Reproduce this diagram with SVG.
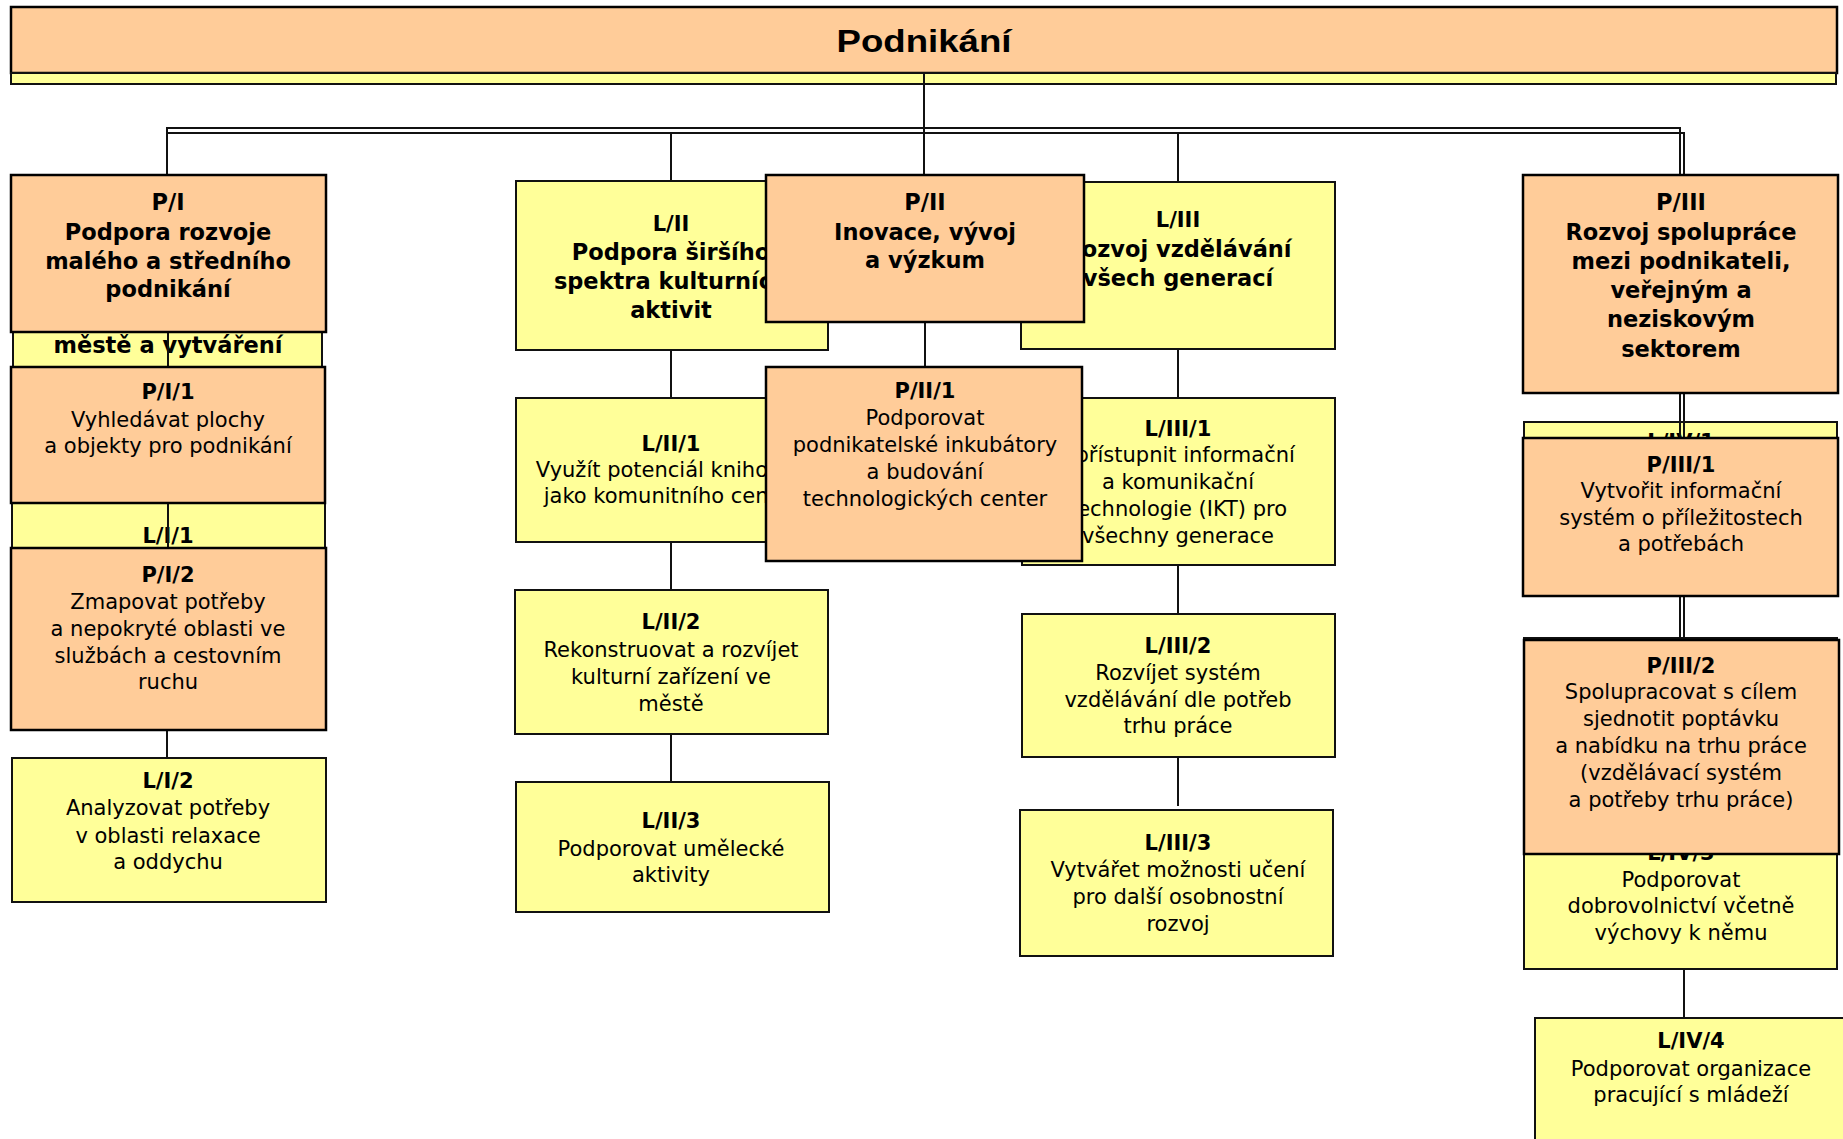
<svg xmlns="http://www.w3.org/2000/svg" width="1843" height="1139" viewBox="0 0 1843 1139">
<style>
.o{fill:#FFCC99;stroke:#000;stroke-width:2.5}
.y{fill:#FFFF99;stroke:#111;stroke-width:2}
.t{font-family:"DejaVu Sans",Verdana,sans-serif;font-size:21px;text-anchor:middle;fill:#000}
.b{font-weight:bold}
.h{font-size:22.5px;font-weight:bold}
.c{fill:none;stroke:#111;stroke-width:2}
.ttl{font-family:"Liberation Sans",Arial,sans-serif;font-size:32px;font-weight:bold;text-anchor:middle;fill:#000}
</style>
<rect width="1843" height="1139" fill="#fff"/>
<g id="n-podnikani">
<rect class="o" x="11" y="7" width="1826" height="66"/>
<rect class="y" x="11" y="73" width="1825" height="11"/>
<text class="ttl" x="924" y="52" textLength="175" lengthAdjust="spacingAndGlyphs">Podnikání</text>
</g>
<g id="n-LI">
<rect class="y" x="13" y="300" width="309" height="67"/>
<text class="t h" x="168" y="353">městě a vytváření</text>
</g>
<g id="n-LI1">
<rect class="y" x="12" y="503" width="313" height="60"/>
<text class="t b" x="168" y="543">L/I/1</text>
</g>
<g id="n-LI2">
<rect class="y" x="12" y="758" width="314" height="144"/>
<text class="t"><tspan class="b" x="168" y="788">L/I/2</tspan><tspan x="168" y="815">Analyzovat potřeby</tspan><tspan x="168" y="843">v oblasti relaxace</tspan><tspan x="168" y="869">a oddychu</tspan></text>
</g>
<g id="n-LII">
<rect class="y" x="516" y="181" width="312" height="169"/>
<text class="t"><tspan class="b" x="671" y="231">L/II</tspan><tspan class="h" x="671" y="260">Podpora širšího</tspan><tspan class="h" x="671" y="289">spektra kulturních</tspan><tspan class="h" x="671" y="318">aktivit</tspan></text>
</g>
<g id="n-LII1">
<rect class="y" x="516" y="398" width="312" height="144"/>
<text class="t"><tspan class="b" x="671" y="451">L/II/1</tspan><tspan x="671" y="477">Využít potenciál knihovny</tspan><tspan x="671" y="503">jako komunitního centra</tspan></text>
</g>
<g id="n-LII2">
<rect class="y" x="515" y="590" width="313" height="144"/>
<text class="t"><tspan class="b" x="671" y="629">L/II/2</tspan><tspan x="671" y="657">Rekonstruovat a rozvíjet</tspan><tspan x="671" y="684">kulturní zařízení ve</tspan><tspan x="671" y="711">městě</tspan></text>
</g>
<g id="n-LII3">
<rect class="y" x="516" y="782" width="313" height="130"/>
<text class="t"><tspan class="b" x="671" y="828">L/II/3</tspan><tspan x="671" y="856">Podporovat umělecké</tspan><tspan x="671" y="882">aktivity</tspan></text>
</g>
<g id="n-LIII">
<rect class="y" x="1021" y="182" width="314" height="167"/>
<text class="t"><tspan class="b" x="1178" y="227">L/III</tspan><tspan class="h" x="1178" y="257">Rozvoj vzdělávání</tspan><tspan class="h" x="1178" y="286">všech generací</tspan></text>
</g>
<g id="n-LIII1">
<rect class="y" x="1022" y="398" width="313" height="167"/>
<text class="t"><tspan class="b" x="1178" y="436">L/III/1</tspan><tspan x="1178" y="462">Zpřístupnit informační</tspan><tspan x="1178" y="489">a komunikační</tspan><tspan x="1178" y="516">technologie (IKT) pro</tspan><tspan x="1178" y="543">všechny generace</tspan></text>
</g>
<g id="n-LIII2">
<rect class="y" x="1022" y="614" width="313" height="143"/>
<text class="t"><tspan class="b" x="1178" y="653">L/III/2</tspan><tspan x="1178" y="680">Rozvíjet systém</tspan><tspan x="1178" y="707">vzdělávání dle potřeb</tspan><tspan x="1178" y="733">trhu práce</tspan></text>
</g>
<g id="n-LIII3">
<rect class="y" x="1020" y="810" width="313" height="146"/>
<text class="t"><tspan class="b" x="1178" y="850">L/III/3</tspan><tspan x="1178" y="877">Vytvářet možnosti učení</tspan><tspan x="1178" y="904">pro další osobnostní</tspan><tspan x="1178" y="931">rozvoj</tspan></text>
</g>
<g id="n-LIV1">
<rect class="y" x="1524" y="422" width="313" height="60"/>
<text class="t b" x="1681" y="449">L/IV/1</text>
</g>
<g id="n-LIV2">
<rect class="y" x="1524" y="638" width="313" height="150"/>
</g>
<g id="n-LIV3">
<rect class="y" x="1524" y="790" width="313" height="179"/>
<text class="t"><tspan class="b" x="1681" y="860">L/IV/3</tspan><tspan x="1681" y="887">Podporovat</tspan><tspan x="1681" y="913">dobrovolnictví včetně</tspan><tspan x="1681" y="940">výchovy k němu</tspan></text>
</g>
<g id="n-LIV4">
<rect class="y" x="1535" y="1018" width="320" height="140"/>
<text class="t"><tspan class="b" x="1691" y="1048">L/IV/4</tspan><tspan x="1691" y="1076">Podporovat organizace</tspan><tspan x="1691" y="1102">pracující s mládeží</tspan></text>
</g>
<g id="connectors" class="c">
<path class="c" d="M924,73V175"/>
<path class="c" d="M167,175V128H1680V175"/>
<path class="c" d="M167,175V133H1684V175"/>
<path class="c" d="M671,133V181"/>
<path class="c" d="M1178,133V182"/>
<path class="c" d="M168,332V367"/>
<path class="c" d="M168,503V548"/>
<path class="c" d="M167,730V758"/>
<path class="c" d="M671,350V398"/>
<path class="c" d="M671,542V590"/>
<path class="c" d="M671,734V782"/>
<path class="c" d="M925,322V367"/>
<path class="c" d="M1178,349V398"/>
<path class="c" d="M1178,565V614"/>
<path class="c" d="M1178,757V806"/>
<path class="c" d="M1680,393V438M1684,393V438"/>
<path class="c" d="M1680,596V640M1684,596V640"/>
<path class="c" d="M1684,969V1018"/>
</g>
<g id="n-PI">
<rect class="o" x="11" y="175" width="315" height="157"/>
<text class="t h"><tspan x="168" y="210">P/I</tspan><tspan x="168" y="240">Podpora rozvoje</tspan><tspan x="168" y="269">malého a středního</tspan><tspan x="168" y="297">podnikání</tspan></text>
</g>
<g id="n-PI1">
<rect class="o" x="11" y="367" width="314" height="136"/>
<text class="t"><tspan class="b" x="168" y="399">P/I/1</tspan><tspan x="168" y="427">Vyhledávat plochy</tspan><tspan x="168" y="453">a objekty pro podnikání</tspan></text>
</g>
<g id="n-PI2">
<rect class="o" x="11" y="548" width="315" height="182"/>
<text class="t"><tspan class="b" x="168" y="582">P/I/2</tspan><tspan x="168" y="609">Zmapovat potřeby</tspan><tspan x="168" y="636">a nepokryté oblasti ve</tspan><tspan x="168" y="663">službách a cestovním</tspan><tspan x="168" y="689">ruchu</tspan></text>
</g>
<g id="n-PII">
<rect class="o" x="766" y="175" width="318" height="147"/>
<text class="t h"><tspan x="925" y="210">P/II</tspan><tspan x="925" y="240">Inovace, vývoj</tspan><tspan x="925" y="268">a výzkum</tspan></text>
</g>
<g id="n-PII1">
<rect class="o" x="766" y="367" width="316" height="194"/>
<text class="t"><tspan class="b" x="925" y="398">P/II/1</tspan><tspan x="925" y="425">Podporovat</tspan><tspan x="925" y="452">podnikatelské inkubátory</tspan><tspan x="925" y="479">a budování</tspan><tspan x="925" y="506">technologických center</tspan></text>
</g>
<g id="n-PIII">
<rect class="o" x="1523" y="175" width="315" height="218"/>
<text class="t h"><tspan x="1681" y="210">P/III</tspan><tspan x="1681" y="240">Rozvoj spolupráce</tspan><tspan x="1681" y="269">mezi podnikateli,</tspan><tspan x="1681" y="298">veřejným a</tspan><tspan x="1681" y="327">neziskovým</tspan><tspan x="1681" y="357">sektorem</tspan></text>
</g>
<g id="n-PIII1">
<rect class="o" x="1523" y="438" width="315" height="158"/>
<text class="t"><tspan class="b" x="1681" y="472">P/III/1</tspan><tspan x="1681" y="498">Vytvořit informační</tspan><tspan x="1681" y="525">systém o příležitostech</tspan><tspan x="1681" y="551">a potřebách</tspan></text>
</g>
<g id="n-PIII2">
<rect class="o" x="1524" y="640" width="315" height="214"/>
<text class="t"><tspan class="b" x="1681" y="673">P/III/2</tspan><tspan x="1681" y="699">Spolupracovat s cílem</tspan><tspan x="1681" y="726">sjednotit poptávku</tspan><tspan x="1681" y="753">a nabídku na trhu práce</tspan><tspan x="1681" y="780">(vzdělávací systém</tspan><tspan x="1681" y="807">a potřeby trhu práce)</tspan></text>
</g>
</svg>
